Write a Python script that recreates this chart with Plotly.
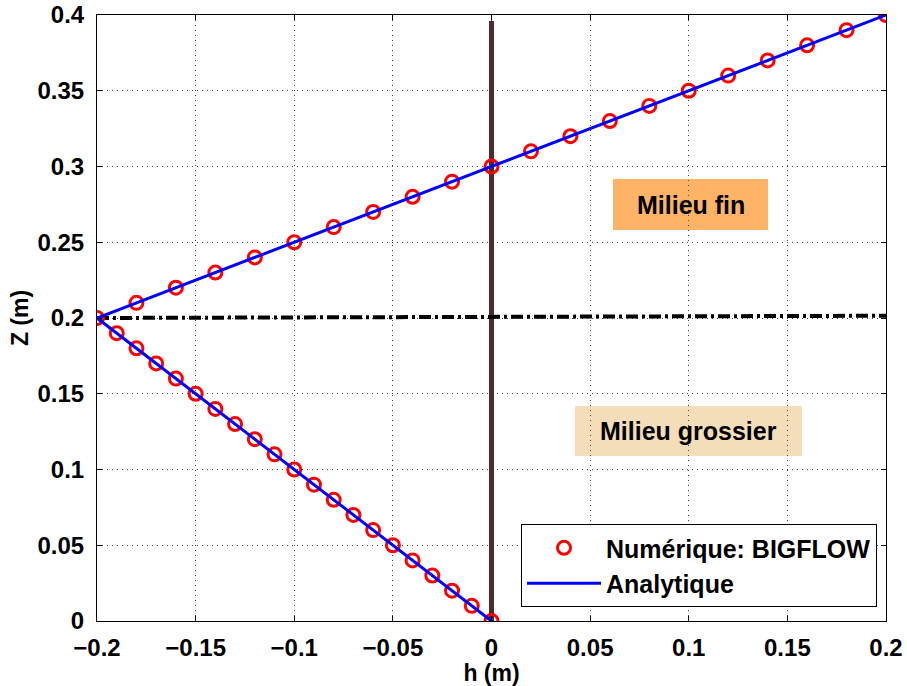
import plotly.graph_objects as go

# Numerical solution (BIGFLOW) points
h_num = [0.0, -0.01, -0.02, -0.03, -0.04, -0.05, -0.06, -0.07, -0.08, -0.09, -0.10,
         -0.11, -0.12, -0.13, -0.14, -0.15, -0.16, -0.17, -0.18, -0.19, -0.20,
         -0.18, -0.16, -0.14, -0.12, -0.10, -0.08, -0.06, -0.04, -0.02, 0.0,
         0.02, 0.04, 0.06, 0.08, 0.10, 0.12, 0.14, 0.16, 0.18, 0.20]
z_num = [0.00, 0.01, 0.02, 0.03, 0.04, 0.05, 0.06, 0.07, 0.08, 0.09, 0.10,
         0.11, 0.12, 0.13, 0.14, 0.15, 0.16, 0.17, 0.18, 0.19, 0.20,
         0.21, 0.22, 0.23, 0.24, 0.25, 0.26, 0.27, 0.28, 0.29, 0.30,
         0.31, 0.32, 0.33, 0.34, 0.35, 0.36, 0.37, 0.38, 0.39, 0.40]

# Analytical solution
h_ana = [0.0, -0.2, 0.2]
z_ana = [0.0, 0.2, 0.4]

# Interface line and h=0 line
h_interface = [-0.2, 0.2]
z_interface = [0.2, 0.2015]
h_zero = [0.0, 0.0]
z_zero = [0.0, 0.396]

# Tick labels
x_ticks = [-0.2, -0.15, -0.1, -0.05, 0, 0.05, 0.1, 0.15, 0.2]
x_labels = ["\u22120.2", "\u22120.15", "\u22120.1", "\u22120.05", "0", "0.05", "0.1", "0.15", "0.2"]
y_ticks = [0, 0.05, 0.1, 0.15, 0.2, 0.25, 0.3, 0.35, 0.4]
y_labels = ["0", "0.05", "0.1", "0.15", "0.2", "0.25", "0.3", "0.35", "0.4"]

fontfam = "Liberation Sans, Arial, sans-serif"
FS = 24

fig = go.Figure()
fig.add_trace(go.Scatter(x=h_zero, y=z_zero, mode="lines",
                         line=dict(color="#4d2b2b", width=5), showlegend=False))
fig.add_trace(go.Scatter(x=h_interface, y=z_interface, mode="lines",
                         line=dict(color="black", width=4, dash="12px,4px,3px,4px"),
                         showlegend=False))
fig.add_trace(go.Scatter(x=h_num, y=z_num, mode="markers", name="<b>Numérique: BIGFLOW</b>",
                         marker=dict(symbol="circle-open", size=13, color="red",
                                     line=dict(width=3, color="red"))))
fig.add_trace(go.Scatter(x=h_ana, y=z_ana, mode="lines", name="<b>Analytique</b>",
                         line=dict(color="blue", width=3)))

# Colored label boxes
fig.add_shape(type="rect", x0=0.0616, x1=0.1402, y0=0.2581, y1=0.2917,
              fillcolor="#FFB366", line=dict(width=0), layer="below")
fig.add_shape(type="rect", x0=0.0423, x1=0.1574, y0=0.1089, y1=0.1419,
              fillcolor="#F3DEB9", line=dict(width=0), layer="below")
fig.add_annotation(x=0.1009, y=0.2749, text="<b>Milieu fin</b>", showarrow=False,
                   font=dict(family=fontfam, size=25, color="black"))
fig.add_annotation(x=0.0998, y=0.1254, text="<b>Milieu grossier</b>", showarrow=False,
                   font=dict(family=fontfam, size=25, color="black"))

axis_common = dict(showline=True, linecolor="black", linewidth=1, mirror="allticks",
                   ticks="inside", ticklen=5, tickcolor="black",
                   showgrid=True, gridcolor="#444", griddash="1px,4px", gridwidth=1,
                   zeroline=False, automargin=False,
                   tickfont=dict(family=fontfam, size=FS, color="black"))

fig.update_xaxes(range=[-0.2, 0.2], tickvals=x_ticks,
                 ticktext=["<b>%s</b>" % t for t in x_labels],
                 ticklabelstandoff=5,
                 title=dict(text="<b>h (m)</b>", font=dict(family=fontfam, size=23, color="black"),
                            standoff=4),
                 **axis_common)
fig.update_yaxes(range=[0, 0.4], tickvals=y_ticks,
                 ticktext=["<b>%s</b>" % t for t in y_labels],
                 ticklabelstandoff=7,
                 title=dict(text="<b>Z (m)</b>", font=dict(family=fontfam, size=23, color="black"),
                            standoff=2),
                 **axis_common)

fig.update_layout(
    width=907, height=686,
    margin=dict(l=97, r=21, t=15, b=65, autoexpand=False),
    plot_bgcolor="white", paper_bgcolor="white",
    legend=dict(x=0.9886, y=0.023, xanchor="right", yanchor="bottom",
                bgcolor="white", bordercolor="black", borderwidth=1,
                font=dict(family=fontfam, size=25, color="black"),
                itemwidth=74, tracegroupgap=0),
)

fig.write_html("out.html", config={"displayModeBar": False},
               post_script="document.body.style.margin='0';")
